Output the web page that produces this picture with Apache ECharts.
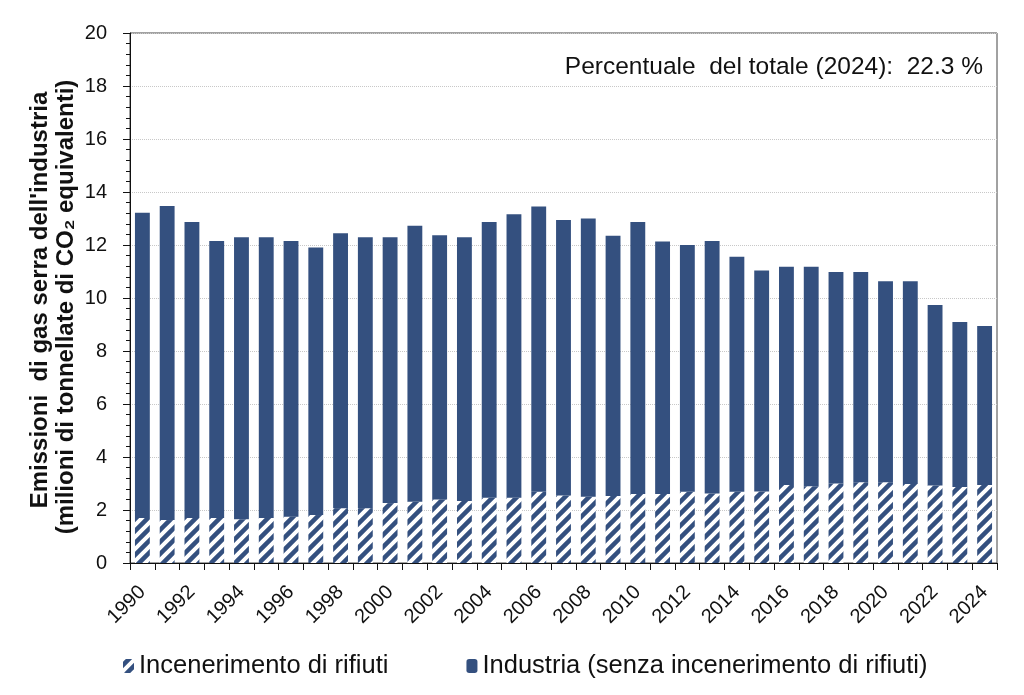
<!DOCTYPE html>
<html>
<head>
<meta charset="utf-8">
<script src="https://cdn.jsdelivr.net/npm/echarts@6/dist/echarts.min.js"></script>
<style>
  html, body { margin: 0; padding: 0; background: #fff; }
  #chart { width: 1024px; height: 695px; }
</style>
</head>
<body>
<div id="chart"></div>
<script>
// dati (milioni di t CO2 eq)
const anni = []
for (let a = 1990; a <= 2024; a++) anni.push(String(a))

const incenerimento = [
  1.70, 1.62, 1.70, 1.70, 1.65, 1.70, 1.75, 1.81, 2.07, 2.07,
  2.26, 2.31, 2.40, 2.34, 2.46, 2.46, 2.69, 2.55, 2.50, 2.53,
  2.60, 2.60, 2.69, 2.62, 2.69, 2.70, 2.94, 2.90, 3.00, 3.05,
  3.05, 2.98, 2.92, 2.87, 2.94
]
const industria = [
  11.52, 11.85, 11.17, 10.45, 10.64, 10.59, 10.40, 10.10, 10.37, 10.22,
  10.03, 10.42, 9.97, 9.95, 10.41, 10.70, 10.76, 10.39, 10.50, 9.82,
  10.27, 9.53, 9.31, 9.53, 8.87, 8.34, 8.24, 8.28, 7.98, 7.93,
  7.58, 7.65, 6.82, 6.22, 6.00
]

const blu = '#34507f'

// tratteggio diagonale bianco su blu
const makeHatch = () => {
  const s = 12
  const c = document.createElement('canvas')
  c.width = s
  c.height = s
  const ctx = c.getContext('2d')
  ctx.fillStyle = blu
  ctx.fillRect(0, 0, s, s)
  ctx.strokeStyle = '#ffffff'
  ctx.lineWidth = 4
  ctx.beginPath()
  ctx.moveTo(-2, s + 2); ctx.lineTo(s + 2, -2)
  ctx.moveTo(-2, 2); ctx.lineTo(2, -2)
  ctx.moveTo(s - 2, s + 2); ctx.lineTo(s + 2, s - 2)
  ctx.stroke()
  return c
}
const hatch = { image: makeHatch(), repeat: 'repeat' }

const font = 'Liberation Sans, Arial, sans-serif'
const chart = echarts.init(document.getElementById('chart'))

const option = {
  animation: false,
  grid: {
    left: 130, right: 27, top: 33, bottom: 132,
    show: true, borderColor: '#444', borderWidth: 1
  },
  legend: {
    left: 118,
    top: 648,
    itemWidth: 11,
    itemHeight: 14,
    itemGap: 78,
    textStyle: { fontFamily: font, fontSize: 25.5, color: '#111' },
    data: ['Incenerimento di rifiuti', 'Industria (senza incenerimento di rifiuti)']
  },
  graphic: [
    {
      type: 'text',
      right: 41,
      top: 55,
      style: {
        text: 'Percentuale  del totale (2024):  22.3 %',
        font: '24.5px ' + font,
        fill: '#111'
      }
    },
    {
      type: 'text',
      rotation: Math.PI / 2,
      style: {
        text: "Emissioni  di gas serra dell'industria",
        font: 'bold 24px ' + font,
        fill: '#111',
        align: 'center',
        verticalAlign: 'middle'
      },
      x: 40,
      y: 300
    },
    {
      type: 'text',
      rotation: Math.PI / 2,
      style: {
        text: '(milioni di tonnellate di CO\u2082 equivalenti)',
        font: 'bold 24px ' + font,
        fill: '#111',
        align: 'center',
        verticalAlign: 'middle'
      },
      x: 66,
      y: 307
    }
  ],
  xAxis: {
    type: 'category',
    data: anni,
    boundaryGap: true,
    axisLine: { lineStyle: { color: '#111', width: 1 } },
    axisTick: { show: true, interval: 0, length: 7, lineStyle: { color: '#111' } },
    axisLabel: {
      interval: 1,
      rotate: 45,
      fontFamily: font,
      fontSize: 20,
      color: '#111',
      margin: 26
    },
    splitLine: { show: false }
  },
  yAxis: {
    type: 'value',
    min: 0,
    max: 20,
    interval: 2,
    axisLine: { show: true, lineStyle: { color: '#111', width: 1 } },
    axisTick: { show: true, length: 7, lineStyle: { color: '#111' } },
    minorTick: { show: true, splitNumber: 5, length: 4, lineStyle: { color: '#111' } },
    axisLabel: { fontFamily: font, fontSize: 20, color: '#111', margin: 23 },
    splitLine: { show: true, lineStyle: { color: '#c8c8c8', type: 'dotted' } }
  },
  series: [
    {
      name: 'Incenerimento di rifiuti',
      type: 'bar',
      stack: 'tot',
      data: incenerimento,
      barCategoryGap: '40%',
      itemStyle: { color: hatch }
    },
    {
      name: 'Industria (senza incenerimento di rifiuti)',
      type: 'bar',
      stack: 'tot',
      data: industria,
      barCategoryGap: '40%',
      itemStyle: { color: blu }
    }
  ]
}

chart.setOption(option)
</script>
</body>
</html>
